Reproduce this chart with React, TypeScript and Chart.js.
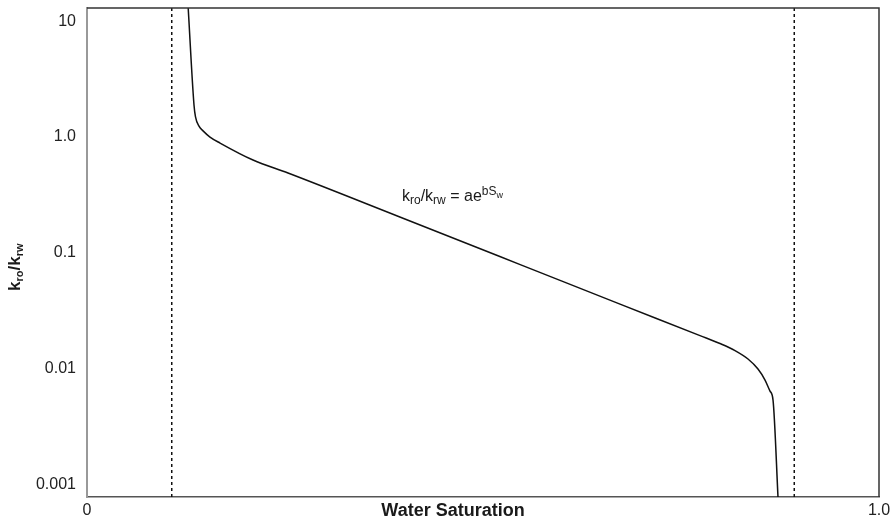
import React, { useEffect, useRef } from 'react';
import { Chart, registerables } from 'chart.js';

Chart.register(...registerables);

// ---- data ----
const swValues = [0.1275, 0.1351, 0.137, 0.1414, 0.1465, 0.1553, 0.168, 0.2096, 0.2538, 0.395, 0.547, 0.673, 0.774, 0.7992, 0.8182, 0.8346, 0.8472, 0.8561, 0.8624, 0.8662, 0.8728];
const ratioValues = [14, 1.89, 1.49, 1.24, 1.13, 1.0, 0.887, 0.633, 0.489, 0.204, 0.0792, 0.0361, 0.0193, 0.01648, 0.01432, 0.01211, 0.00993, 0.00798, 0.00641, 0.00536, 0.0007];
const swcLine = 0.107;
const sorLine = 0.893;
const yTickValues = [0.001, 0.01, 0.1, 1, 10];
const yTickLabels = ['0.001', '0.01', '0.1', '1.0', '10'];
const xTickValues = [0, 1];
const xTickLabels = ['0', '1.0'];
const Y_MIN = 0.00078;
const Y_MAX = 13;
const X_MIN = 0;
const X_MAX = 1;

const FONT = '"Liberation Sans", Arial, Helvetica, sans-serif';

type Run = { t: string; size: number; dy: number; bold?: boolean };

function drawRuns(ctx: CanvasRenderingContext2D, runs: Run[], x: number, y: number) {
  let cx = x;
  for (const r of runs) {
    ctx.font = `${r.bold ? 'bold ' : ''}${r.size}px ${FONT}`;
    ctx.fillText(r.t, cx, y + r.dy);
    cx += ctx.measureText(r.t).width;
  }
}

const textPlugin = {
  id: 'textPlugin',
  afterDraw(chart: any) {
    const ctx: CanvasRenderingContext2D = chart.ctx;
    const a = chart.chartArea;
    ctx.save();
    // frame top & right
    ctx.strokeStyle = '#333';
    ctx.lineWidth = 1.5;
    ctx.beginPath();
    ctx.moveTo(a.left, a.top);
    ctx.lineTo(a.right, a.top);
    ctx.lineTo(a.right, a.bottom);
    ctx.stroke();

    ctx.fillStyle = '#1a1a1a';
    ctx.textAlign = 'left';
    ctx.textBaseline = 'alphabetic';
    // annotation
    drawRuns(ctx, [
      { t: 'k', size: 16, dy: 0 },
      { t: 'ro', size: 12, dy: 3 },
      { t: '/k', size: 16, dy: 0 },
      { t: 'rw', size: 12, dy: 3 },
      { t: ' = ae', size: 16, dy: 0 },
      { t: 'bS', size: 12, dy: -6 },
      { t: 'w', size: 9, dy: -3 },
    ], 402, 201);

    // x title
    ctx.font = `bold 18px ${FONT}`;
    ctx.textAlign = 'center';
    ctx.fillText('Water Saturation', 453, 516);

    // y title
    ctx.textAlign = 'left';
    ctx.translate(20, 291);
    ctx.rotate(-Math.PI / 2);
    drawRuns(ctx, [
      { t: 'k', size: 17, dy: 0, bold: true },
      { t: 'ro', size: 11, dy: 3, bold: true },
      { t: '/k', size: 17, dy: 0, bold: true },
      { t: 'rw', size: 11, dy: 3, bold: true },
    ], 0, 0);
    ctx.restore();
  },
};

export default function App() {
  const ref = useRef<HTMLCanvasElement | null>(null);
  useEffect(() => {
    if (!ref.current) return;
    const curve = swValues.map((x, i) => ({ x, y: ratioValues[i] }));
    const chart = new Chart(ref.current, {
      type: 'scatter',
      data: {
        datasets: [
          {
            data: curve,
            showLine: true,
            borderColor: '#111',
            borderWidth: 1.5,
            pointRadius: 0,
            cubicInterpolationMode: 'monotone',
          } as any,
          {
            data: [{ x: swcLine, y: Y_MIN }, { x: swcLine, y: Y_MAX }],
            showLine: true,
            borderColor: '#111',
            borderWidth: 1.5,
            borderDash: [3, 3],
            pointRadius: 0,
          } as any,
          {
            data: [{ x: sorLine, y: Y_MIN }, { x: sorLine, y: Y_MAX }],
            showLine: true,
            borderColor: '#111',
            borderWidth: 1.5,
            borderDash: [3, 3],
            pointRadius: 0,
          } as any,
        ],
      },
      options: {
        responsive: false,
        animation: false,
        layout: { padding: { top: 8, right: 14, left: 0, bottom: 0 } },
        plugins: { legend: { display: false }, tooltip: { enabled: false } },
        scales: {
          x: {
            type: 'linear',
            min: X_MIN,
            max: X_MAX,
            afterBuildTicks: (s: any) => { s.ticks = xTickValues.map((v) => ({ value: v })); },
            afterFit: (s: any) => { s.height = 23; s.paddingLeft = 0; s.paddingRight = 0; },
            ticks: {
              autoSkip: false,
              maxRotation: 0,
              padding: 4,
              color: '#222',
              font: { family: FONT, size: 16 },
              callback: (v: any) => { const i = xTickValues.indexOf(Number(v)); return i >= 0 ? xTickLabels[i] : ''; },
            },
            grid: { display: false, drawTicks: false },
            border: { display: true, color: '#555', width: 1.5 },
          },
          y: {
            type: 'logarithmic',
            min: Y_MIN,
            max: Y_MAX,
            afterBuildTicks: (s: any) => { s.ticks = yTickValues.map((v) => ({ value: v })); },
            afterFit: (s: any) => { s.width = 87; s.paddingTop = 0; s.paddingBottom = 0; },
            ticks: {
              autoSkip: false,
              padding: 11,
              color: '#222',
              font: { family: FONT, size: 16 },
              callback: (v: any) => { const i = yTickValues.indexOf(Number(v)); return i >= 0 ? yTickLabels[i] : ''; },
            },
            grid: { display: false, drawTicks: false },
            border: { display: true, color: '#999', width: 2 },
          },
        },
      } as any,
      plugins: [textPlugin],
    });
    return () => chart.destroy();
  }, []);
  return (
    <div style={{ position: 'absolute', left: 0, top: 0, width: 893, height: 520 }}>
      <canvas ref={ref} width={893} height={520} />
    </div>
  );
}
